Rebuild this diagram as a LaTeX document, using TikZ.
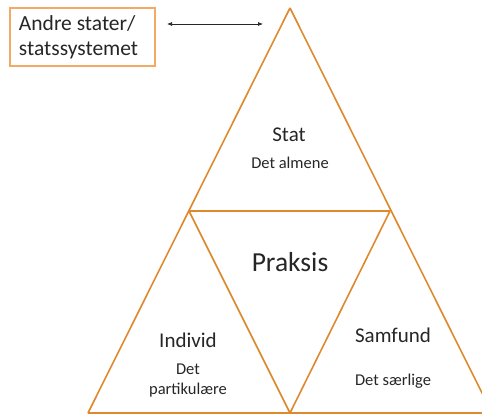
\documentclass[tikz,border=0pt]{standalone}
\usepackage{fontspec}
\setmainfont{Carlito}
\usetikzlibrary{arrows.meta, positioning}
\definecolor{trianglecol}{RGB}{222,137,46}
\definecolor{boxcol}{RGB}{242,170,100}
\begin{document}
\begin{tikzpicture}[x=1pt, y=-1pt,
  edge/.style={draw=trianglecol, line width=1.6pt, line join=round},
  title/.style={font=\fontsize{21}{25}\selectfont, text=black!85},
  sub/.style={font=\fontsize{16.5}{20}\selectfont, text=black!85, align=center}]
\useasboundingbox (0,0) rectangle (482,414);
\clip (0,0) rectangle (482,414);

\coordinate (top) at (290,8);
\coordinate (ml) at (189,211);
\coordinate (mr) at (390,211);
\coordinate (bl) at (88,413);
\coordinate (bm) at (290,413);
\coordinate (br) at (492,413);

\foreach \s/\t in {top/bl,
                   top/br,
                   ml/mr,
                   ml/bm,
                   mr/bm,
                   bl/br}
    \draw [edge] (\s) -- (\t);

\node [title] (Stat) at (289,135) {Stat};
\node [sub] (StatSub) at (290,163) {Det almene};

\node [font=\fontsize{27.5}{32}\selectfont, text=black!85] (Praksis) at (290,262) {Praksis};

\node [title] (Individ) at (188,340) {Individ};
\node [sub, font=\fontsize{16.5}{20}\selectfont] (IndividSub) at (188,381) {Det\\partikulære};

\node [title] (Samfund) at (393,335) {Samfund};
\node [sub] (SamfundSub) at (393,381) {Det særlige};

\node [draw=boxcol, line width=1.4pt, align=flush left, font=\fontsize{21.5}{25}\selectfont,
       text=black!85, minimum width=145pt, minimum height=58pt, text width=127pt,
       inner sep=5pt] (Andre) at (82.5,37) {Andre stater/\\statssystemet};

\coordinate (pil) at (263,24);
\draw [{Latex[length=5pt,width=4pt]}-{Latex[length=5pt,width=4pt]}, line width=0.7pt, black!85]
      (167,24) -- (pil);

\end{tikzpicture}
\end{document}
